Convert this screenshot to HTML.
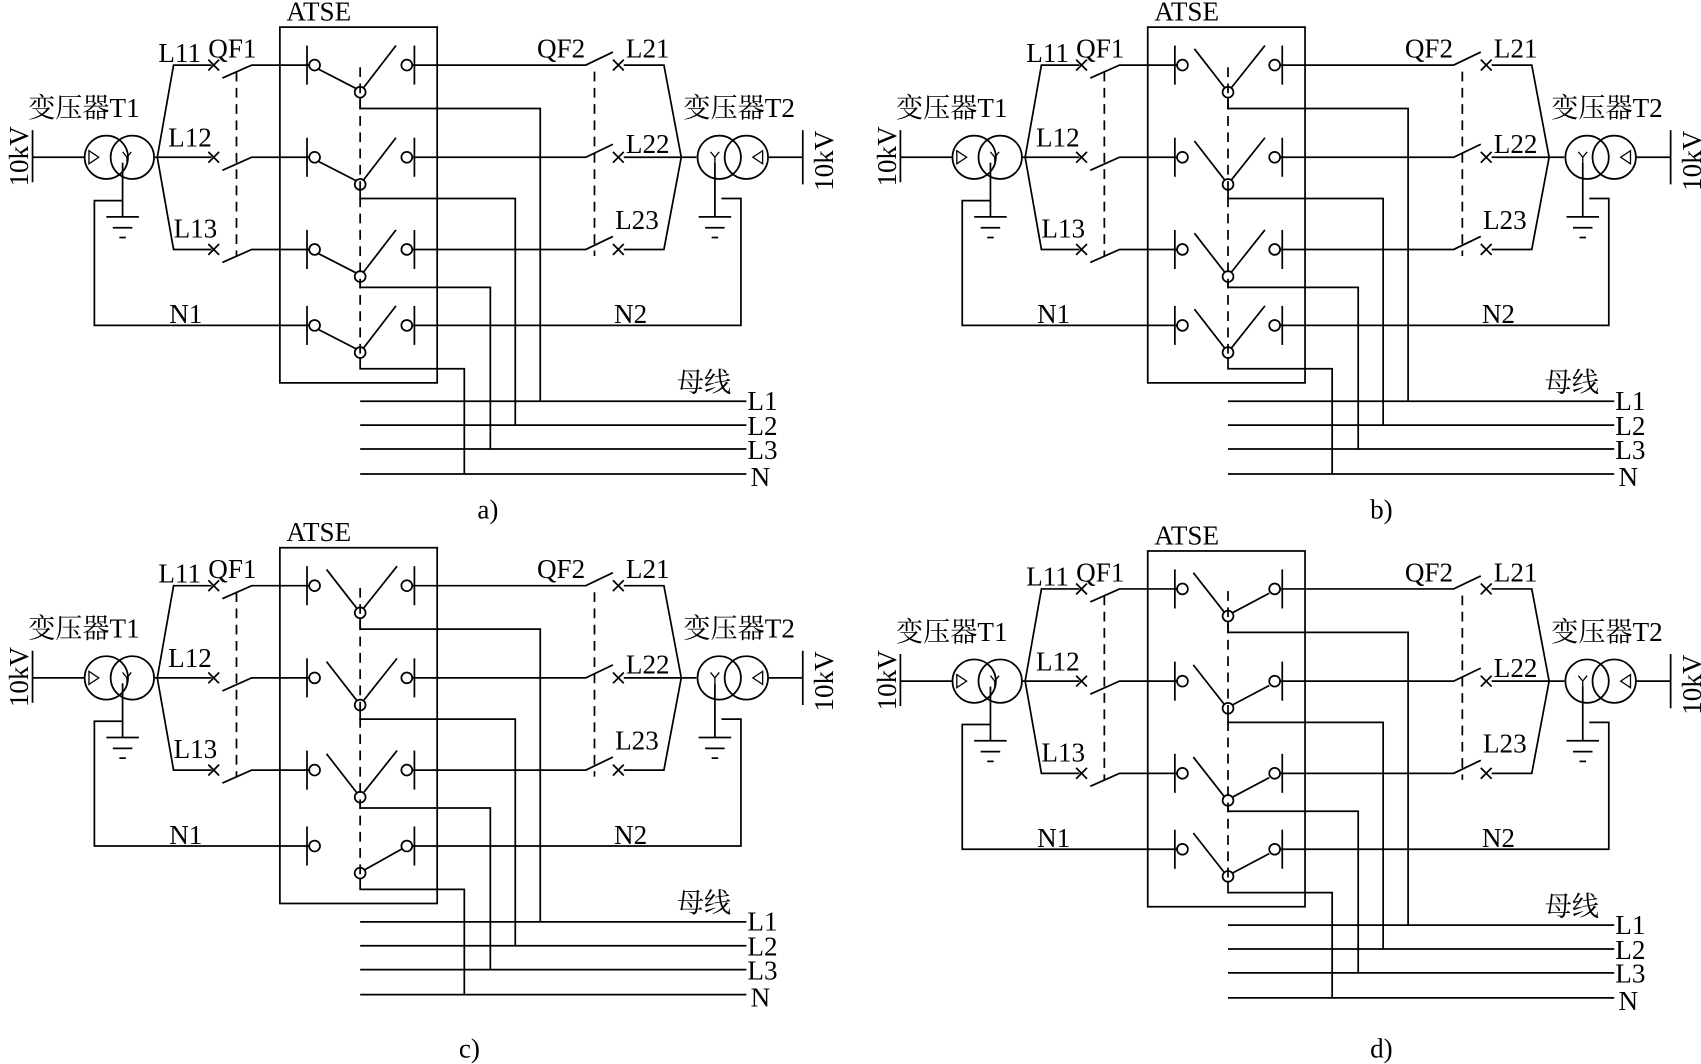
<!DOCTYPE html>
<html><head><meta charset="utf-8"><style>
html,body{margin:0;padding:0;background:#fff;}
svg{display:block;}
text{font-family:"Liberation Serif","Noto Serif CJK SC",serif;font-size:25px;fill:#000;}
</style></head><body>
<svg width="1701" height="1064" viewBox="0 0 1568 981" preserveAspectRatio="none" xmlns="http://www.w3.org/2000/svg">
<defs>
<g id="cont" fill="none" stroke="#000" stroke-width="1.6">
   <line x1="283" y1="42" x2="283" y2="78"/>
   <circle cx="290" cy="60" r="5"/>
   <line x1="382" y1="42" x2="382" y2="78"/>
   <circle cx="375" cy="60" r="5"/>
   <circle cx="332" cy="85" r="5"/>
</g>
<g id="base" fill="none" stroke="#000" stroke-width="1.6">
  <line x1="30" y1="120" x2="30" y2="168"/>
  <line x1="30" y1="145" x2="78" y2="145"/>
  <circle cx="98" cy="145" r="20"/>
  <circle cx="122" cy="145" r="20"/>
  <polygon points="82,139 82,151 91,145" stroke-width="1.2"/>
  <path d="M113,140 L117,145 L121,140 M117,145 L117,150" stroke-width="1.2"/>
  <line x1="142" y1="145" x2="145" y2="145"/>
  <line x1="113" y1="150" x2="113" y2="200"/>
  <line x1="98" y1="200" x2="128" y2="200"/>
  <line x1="104" y1="210" x2="122" y2="210"/>
  <line x1="110" y1="219" x2="116" y2="219"/>
  <polyline points="113,185 87,185 87,300 285,300"/>
  <polyline points="195,60 160,60 145,145 160,230 195,230"/>
  <line x1="145" y1="145" x2="195" y2="145"/>
  <path d="M192,55 L202,65 M202,55 L192,65 M192,140 L202,150 M202,140 L192,150 M192,225 L202,235 M202,225 L192,235"/>
  <path d="M205,72 L232,60 L285,60 M205,157 L232,145 L285,145 M205,242 L232,230 L285,230"/>
  <line x1="218" y1="66" x2="218" y2="236" stroke-dasharray="9,6"/>
  <rect x="258" y="25" width="145" height="328"/>
  <line x1="332" y1="62" x2="332" y2="330" stroke-dasharray="9,6"/>
  <path d="M380,60 L540,60 L565,48 M380,145 L540,145 L565,133 M380,230 L540,230 L565,218"/>
  <path d="M565,55 L575,65 M575,55 L565,65 M565,140 L575,150 M575,140 L565,150 M565,225 L575,235 M575,225 L565,235"/>
  <polyline points="575,60 612,60 628,145 612,230 575,230"/>
  <line x1="575" y1="145" x2="642" y2="145"/>
  <line x1="548" y1="66" x2="548" y2="236" stroke-dasharray="9,6"/>
  <polyline points="380,300 683,300 683,183 665,183"/>
  <circle cx="663" cy="145" r="20"/>
  <circle cx="688" cy="145" r="20"/>
  <polygon points="703,139 703,151 694,145" stroke-width="1.2"/>
  <path d="M655,140 L659,145 L663,140 M659,145 L659,150" stroke-width="1.2"/>
  <line x1="708" y1="145" x2="740" y2="145"/>
  <line x1="740" y1="120" x2="740" y2="170"/>
  <line x1="659" y1="150" x2="659" y2="200"/>
  <line x1="644" y1="200" x2="674" y2="200"/>
  <line x1="650" y1="210" x2="668" y2="210"/>
  <line x1="656" y1="219" x2="662" y2="219"/>
  <polyline points="332,90 332,100 498,100 498,370"/>
  <polyline points="332,175 332,183 475,183 475,392"/>
  <polyline points="332,260 332,265 452,265 452,414"/>
  <polyline points="332,330 332,340 428,340 428,437"/>
  <line x1="332" y1="370" x2="688" y2="370"/>
  <line x1="332" y1="392" x2="688" y2="392"/>
  <line x1="332" y1="414" x2="688" y2="414"/>
  <line x1="332" y1="437" x2="688" y2="437"/>
</g>
<g id="labels">
  <text x="264" y="19">ATSE</text>
  <text x="146" y="57">L11</text>
  <text x="192" y="53">QF1</text>
  <text x="155" y="135">L12</text>
  <text x="160" y="219">L13</text>
  <text x="26" y="108">变压器T1</text>
  <text x="630" y="108">变压器T2</text>
  <text x="495" y="53">QF2</text>
  <text x="577" y="53">L21</text>
  <text x="577" y="141">L22</text>
  <text x="567" y="211">L23</text>
  <text x="156" y="298">N1</text>
  <text x="566" y="298">N2</text>
  <text x="624" y="361">母线</text>
  <text x="689" y="378">L1</text>
  <text x="689" y="401">L2</text>
  <text x="689" y="423">L3</text>
  <text x="692" y="448">N</text>
  <text transform="translate(26,172) rotate(-90)">10kV</text>
  <text transform="translate(768,176) rotate(-90)">10kV</text>
</g>
<g id="full"><use href="#base"/><use href="#cont"/><use href="#cont" transform="translate(0,85)"/><use href="#cont" transform="translate(0,170)"/><use href="#cont" transform="translate(0,240)"/><use href="#labels"/></g>
</defs>

<use href="#full" transform="translate(0,0)"/>
<use href="#full" transform="translate(800,0)"/>
<use href="#full" transform="translate(0,480)"/>
<use href="#full" transform="translate(800,483)"/>

<g fill="none" stroke="#000" stroke-width="1.6">
 <path d="M294,64 L329,82 M335,81 L365,42 M294,149 L329,167 M335,166 L365,127 M294,234 L329,252 M335,251 L365,212 M294,304 L329,322 M335,321 L365,282"/>
 <path d="M1101,45 L1129,81 M1135,81 L1166,42 M1101,130 L1129,166 M1135,166 L1166,127 M1101,215 L1129,251 M1135,251 L1166,212 M1101,285 L1129,321 M1135,321 L1166,282"/>
 <path d="M301,525 L329,561 M335,561 L366,522 M301,610 L329,646 M335,646 L366,607 M301,695 L329,731 M335,731 L366,692 M336,802 L370,783"/>
 <path d="M1100,528 L1129,565 M1136,565 L1170,547 M1100,613 L1129,650 M1136,650 L1170,632 M1100,698 L1129,735 M1136,735 L1170,717 M1100,768 L1129,805 M1136,805 L1170,787"/>
</g>
<text x="440" y="478">a)</text>
<text x="1263" y="478">b)</text>
<text x="423" y="975">c)</text>
<text x="1263" y="975">d)</text>
</svg>
</body></html>
